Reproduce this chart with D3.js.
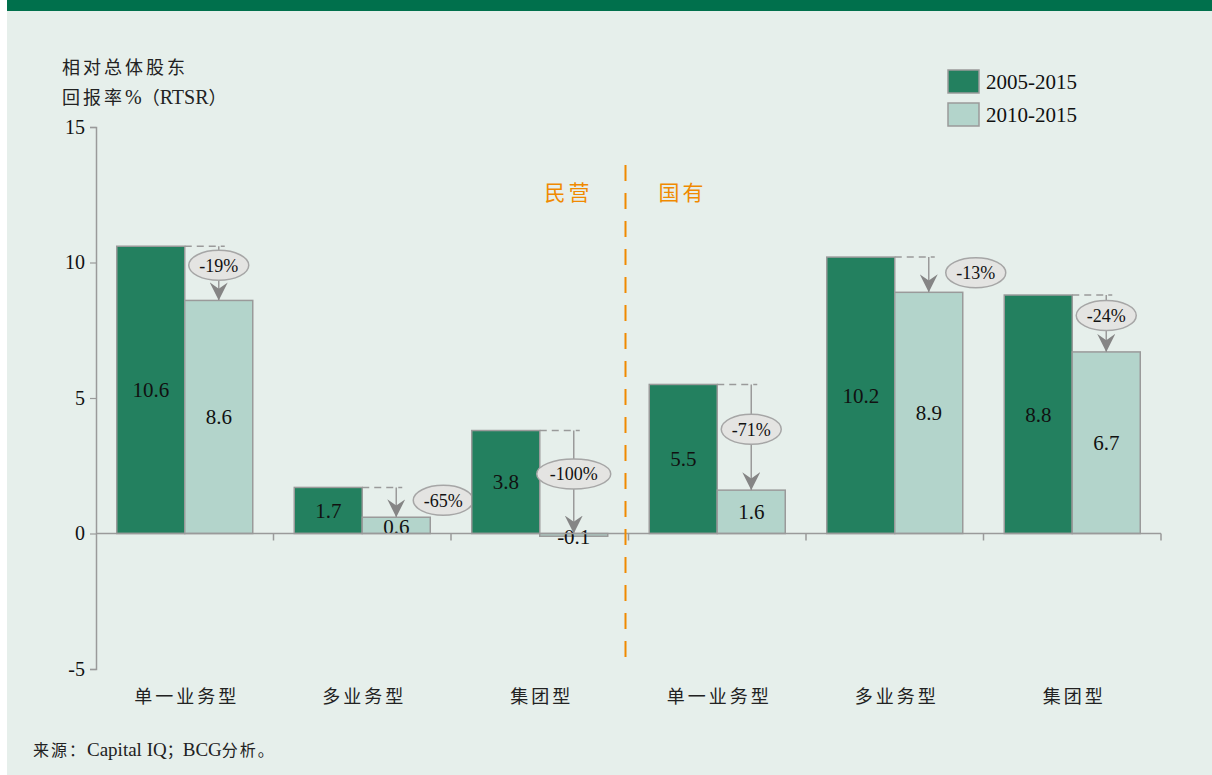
<!DOCTYPE html>
<html>
<head>
<meta charset="utf-8">
<script src="https://cdn.jsdelivr.net/npm/d3@7/dist/d3.min.js"></script>
<style>
  body { margin: 0; background: #fff; }
  svg { display: block; }
</style>
</head>
<body>
<div id="chart"></div>
<script>
// data
var categories = ["单一业务型", "多业务型", "集团型", "单一业务型", "多业务型", "集团型"];
var series = ["2005-2015", "2010-2015"];
var rtsr0515 = [10.6, 1.7, 3.8, 5.5, 10.2, 8.8];
var rtsr1015 = [8.6, 0.6, -0.1, 1.6, 8.9, 6.7];
var changeLabels = ["-19%", "-65%", "-100%", "-71%", "-13%", "-24%"];
var yTicks = [15, 10, 5, 0, -5];
var groupNames = ["民营", "国有"];

var W = 1212, H = 775;
var darkGreen = "#23805f", lightGreen = "#b3d4cb", grey = "#9a9a9a", orange = "#f08a00";
var serif = "'Liberation Serif', 'DejaVu Serif', serif";
var cjk = "'Noto Sans CJK SC', sans-serif";

var svg = d3.select("#chart").append("svg")
  .attr("width", W)
  .attr("height", H);

// background + top band
svg.append("rect").attr("x", 7).attr("y", 0).attr("width", W - 7).attr("height", H).attr("fill", "#e6efeb");
svg.append("rect").attr("x", 7).attr("y", 0).attr("width", W - 7).attr("height", 11).attr("fill", "#00704c");

var y = d3.scaleLinear().domain([-5, 15]).range([669, 127]);
var x = d3.scaleBand().domain(d3.range(categories.length)).range([96, 1161]).paddingInner(0).paddingOuter(0);
var xs = d3.scaleBand().domain(series).range([20.75, x.bandwidth() - 20.75]);

// y axis
var yAxis = d3.axisLeft(y).tickValues(yTicks).tickSize(6).tickFormat(function(d) { return String(d); });
var gy = svg.append("g").attr("transform", "translate(96,0)").call(yAxis);
gy.select(".domain").attr("stroke", grey).attr("stroke-width", 1.5);
gy.selectAll(".tick line").attr("stroke", grey).attr("stroke-width", 1.2);
gy.selectAll(".tick text").attr("font-family", serif).attr("font-size", 20).attr("fill", "#111").attr("x", -11);

// y title
svg.append("text").attr("x", 62).attr("y", 74).text("相对总体股东")
  .attr("font-family", cjk).attr("font-size", 18).attr("letter-spacing", 3).attr("fill", "#222");
svg.append("text").attr("x", 62).attr("y", 104)
  .attr("font-size", 18).attr("fill", "#222")
  .call(function(t) {
    t.append("tspan").attr("font-family", cjk).attr("letter-spacing", 3).text("回报率");
    t.append("tspan").attr("font-family", serif).attr("font-size", 20).text("%");
    t.append("tspan").attr("font-family", cjk).text("（");
    t.append("tspan").attr("font-family", serif).attr("font-size", 20).text("RTSR");
    t.append("tspan").attr("font-family", cjk).text("）");
  });

// bars
var groups = svg.selectAll("g.grp").data(categories).enter().append("g")
  .attr("class", "grp")
  .attr("transform", function(d, i) { return "translate(" + x(i) + ",0)"; });

function barY(v) { return y(Math.max(0, v)); }
function barH(v) { return Math.abs(y(v) - y(0)); }

groups.append("rect")
  .attr("x", xs(series[0])).attr("width", xs.bandwidth())
  .attr("y", function(d, i) { return barY(rtsr0515[i]); })
  .attr("height", function(d, i) { return barH(rtsr0515[i]); })
  .attr("fill", darkGreen).attr("stroke", grey).attr("stroke-width", 1.5);

groups.append("rect")
  .attr("x", xs(series[1])).attr("width", xs.bandwidth())
  .attr("y", function(d, i) { return barY(rtsr1015[i]); })
  .attr("height", function(d, i) { return Math.max(2, barH(rtsr1015[i])); })
  .attr("fill", lightGreen).attr("stroke", grey).attr("stroke-width", 1.5);

// x axis (drawn after bars)
var xAxisG = svg.append("g");
xAxisG.append("line").attr("x1", 96).attr("x2", 1161).attr("y1", y(0)).attr("y2", y(0))
  .attr("stroke", grey).attr("stroke-width", 1.5);
xAxisG.selectAll("line.tk").data(d3.range(1, categories.length + 1)).enter().append("line")
  .attr("class", "tk")
  .attr("x1", function(d) { return 96 + d * x.step(); })
  .attr("x2", function(d) { return 96 + d * x.step(); })
  .attr("y1", y(0)).attr("y2", y(0) + 7)
  .attr("stroke", grey).attr("stroke-width", 1.5);

// value labels
groups.append("text")
  .attr("x", xs(series[0]) + xs.bandwidth() / 2)
  .attr("y", function(d, i) { return (y(rtsr0515[i]) + y(0)) / 2; })
  .attr("dy", "0.35em").attr("text-anchor", "middle")
  .attr("font-family", serif).attr("font-size", 21).attr("fill", "#111")
  .text(function(d, i) { return rtsr0515[i].toFixed(1); });

groups.append("text")
  .attr("x", xs(series[1]) + xs.bandwidth() / 2)
  .attr("y", function(d, i) { return (y(rtsr1015[i]) + y(0)) / 2 + (rtsr1015[i] < 1 ? 1.5 : 0); })
  .attr("dy", "0.35em").attr("text-anchor", "middle")
  .attr("font-family", serif).attr("font-size", 21).attr("fill", "#111")
  .text(function(d, i) { return rtsr1015[i].toFixed(1); });

// change arrows
svg.append("defs").append("marker")
  .attr("id", "arrowhead")
  .attr("viewBox", [0, 0, 10, 10])
  .attr("refX", 10).attr("refY", 5)
  .attr("markerUnits", "userSpaceOnUse")
  .attr("markerWidth", 18).attr("markerHeight", 18)
  .attr("orient", "auto")
  .append("path")
  .attr("d", "M0,0 L10,5 L0,10 L3.5,5 Z")
  .attr("fill", "#858585");

var ax = xs(series[1]) + xs.bandwidth() / 2;

groups.append("line")
  .attr("x1", xs(series[0]) + xs.bandwidth()).attr("x2", ax + 6)
  .attr("y1", function(d, i) { return y(rtsr0515[i]); })
  .attr("y2", function(d, i) { return y(rtsr0515[i]); })
  .attr("stroke", grey).attr("stroke-width", 1.5).attr("stroke-dasharray", "7,5");

groups.append("line")
  .attr("x1", ax).attr("x2", ax)
  .attr("y1", function(d, i) { return y(rtsr0515[i]); })
  .attr("y2", function(d, i) { return barY(rtsr1015[i]); })
  .attr("stroke", grey).attr("stroke-width", 1.5)
  .attr("marker-end", "url(#arrowhead)");

var bubbles = groups.append("g")
  .attr("transform", function(d, i) {
    var top = y(rtsr0515[i]), bot = barY(rtsr1015[i]);
    var mid = (top + bot) / 2;
    if (bot - top < 45) return "translate(" + (ax + 47) + "," + (mid - 2) + ")";
    return "translate(" + ax + "," + (mid - 8) + ")";
  });

bubbles.append("ellipse")
  .attr("rx", function(d, i) { return changeLabels[i].length > 4 ? 37 : 30; })
  .attr("ry", 15)
  .attr("fill", "#e4e4e2").attr("stroke", "#a6a6a6").attr("stroke-width", 1.5);

bubbles.append("text")
  .attr("dy", "0.35em").attr("text-anchor", "middle")
  .attr("font-family", serif).attr("font-size", 18).attr("fill", "#111")
  .text(function(d, i) { return changeLabels[i]; });

// category labels
svg.selectAll("text.cat").data(categories).enter().append("text")
  .attr("class", "cat")
  .attr("x", function(d, i) { return x(i) + x.bandwidth() / 2 + 2; })
  .attr("y", 703)
  .attr("text-anchor", "middle")
  .attr("font-family", cjk).attr("font-size", 18).attr("letter-spacing", 3)
  .attr("fill", "#222")
  .text(function(d) { return d; });

// divider between private and state-owned
var divX = 96 + 3 * x.step() - 3;
svg.append("line").attr("x1", divX).attr("x2", divX).attr("y1", 165).attr("y2", 660)
  .attr("stroke", orange).attr("stroke-width", 2).attr("stroke-dasharray", "16,12");
svg.selectAll("text.grpname").data(groupNames).enter().append("text")
  .attr("class", "grpname")
  .attr("x", function(d, i) { return i === 0 ? divX - 33 : divX + 33; })
  .attr("y", 200)
  .attr("text-anchor", function(d, i) { return i === 0 ? "end" : "start"; })
  .attr("font-family", cjk).attr("font-size", 21).attr("letter-spacing", 3)
  .attr("fill", orange)
  .text(function(d) { return d; });

// legend
var legend = svg.selectAll("g.leg").data(series).enter().append("g")
  .attr("class", "leg")
  .attr("transform", function(d, i) { return "translate(948," + (70 + i * 33) + ")"; });
legend.append("rect").attr("width", 31).attr("height", 23)
  .attr("fill", function(d, i) { return i === 0 ? darkGreen : lightGreen; })
  .attr("stroke", grey).attr("stroke-width", 1.5);
legend.append("text").attr("x", 38).attr("y", 12).attr("dy", "0.35em")
  .attr("font-family", serif).attr("font-size", 21).attr("fill", "#111")
  .text(function(d) { return d; });

// source
svg.append("text").attr("x", 33).attr("y", 756)
  .attr("font-size", 16).attr("fill", "#222")
  .call(function(t) {
    t.append("tspan").attr("font-family", cjk).attr("letter-spacing", 2).text("来源：");
    t.append("tspan").attr("font-family", serif).attr("font-size", 19).text("Capital IQ");
    t.append("tspan").attr("font-family", cjk).text("；");
    t.append("tspan").attr("font-family", serif).attr("font-size", 19).text("BCG");
    t.append("tspan").attr("font-family", cjk).attr("letter-spacing", 2).text("分析。");
  });
</script>
</body>
</html>
